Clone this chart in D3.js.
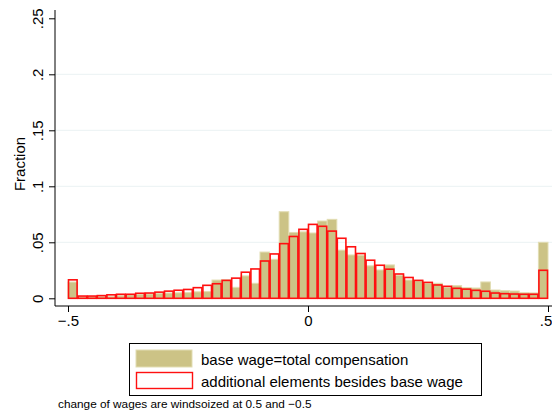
<!DOCTYPE html>
<html><head><meta charset="utf-8">
<script src="https://cdn.jsdelivr.net/npm/d3@7"></script>
<style>body{margin:0;background:#fff}svg{display:block}text{font-family:"Liberation Sans",Arial,sans-serif;fill:#000}</style>
</head><body>
<script>
const binStart = -0.5, binWidth = 0.02;
const baseWage = [0.0145,0.0012,0.0015,0.0018,0.0017,0.0023,0.003,0.0035,0.0038,0.0042,
  0.0047,0.0049,0.0051,0.0058,0.006,0.0163,0.0165,0.0098,0.020,0.0134,
  0.0413,0.0348,0.0773,0.0588,0.0593,0.0583,0.069,0.0705,0.043,0.0387,
  0.0385,0.029,0.0253,0.0298,0.0205,0.0163,0.0155,0.0134,0.0134,0.0098,
  0.0113,0.0095,0.0092,0.0146,0.0074,0.0068,0.0065,0.005,0.0048,0.050];
const additional = [0.0165,0.002,0.002,0.0024,0.0031,0.0036,0.0036,0.0045,0.0047,0.0055,
  0.0064,0.0072,0.0079,0.0095,0.0116,0.013,0.016,0.018,0.0233,0.0262,
  0.0333,0.0396,0.0488,0.0552,0.0616,0.066,0.0643,0.060,0.0536,0.046,
  0.040,0.034,0.0295,0.026,0.0217,0.0186,0.016,0.0142,0.0119,0.0107,
  0.0089,0.0082,0.0071,0.0063,0.0047,0.0041,0.0038,0.0036,0.0036,0.025];
const yTicks = [0,0.05,0.1,0.15,0.2,0.25];
const yTickLabels = ["0",".05",".1",".15",".2",".25"];
const xTicks = [-0.5,0,0.5];
const xTickLabels = ["\u2212.5","0",".5"];
const legendLabels = ["base wage=total compensation","additional elements besides base wage"];
const yTitle = "Fraction";
const note = "change of wages are windsoized at 0.5 and \u22120.5";

const W=552,H=411;
const svg=d3.select("body").append("svg").attr("width",W).attr("height",H);
const x=d3.scaleLinear().domain([-0.5,0.5]).range([68,548]);
const y=d3.scaleLinear().domain([0,0.25]).range([298.3,18.3]);
const axX=55, axY=306;

// gridlines
svg.append("g").selectAll("line").data(yTicks.filter(d=>d>0&&d<0.25)).join("line")
  .attr("x1",axX).attr("x2",W).attr("y1",d=>y(d)).attr("y2",d=>y(d))
  .attr("stroke","#eaf2f3").attr("stroke-width",1);

const bins=d=>d.map((v,i)=>({x0:binStart+i*binWidth,x1:binStart+(i+1)*binWidth,v}));
svg.append("g").selectAll("rect").data(bins(baseWage)).join("rect")
  .attr("x",d=>x(d.x0)).attr("width",d=>x(d.x1)-x(d.x0))
  .attr("y",d=>y(d.v)).attr("height",d=>y(0)-y(d.v))
  .attr("fill","#ccc386").attr("stroke","#e2ddb3").attr("stroke-width",1);
svg.append("g").selectAll("rect").data(bins(additional)).join("rect")
  .attr("x",d=>x(d.x0)+0.5).attr("width",d=>x(d.x1)-x(d.x0)-1)
  .attr("y",d=>y(d.v)).attr("height",d=>y(0)-y(d.v))
  .attr("fill","none").attr("stroke","#ff1010").attr("stroke-width",1.6);

// y axis
const ya=d3.axisLeft(y).tickValues(yTicks).tickFormat((d,i)=>yTickLabels[i]).tickSize(6).tickPadding(4);
const gy=svg.append("g").attr("transform",`translate(${axX},0)`).call(ya);
gy.select(".domain").attr("d",`M0,10V${axY}`).attr("stroke","#000");
gy.selectAll(".tick line").attr("stroke","#000");
gy.selectAll(".tick text").attr("font-size",15).attr("text-anchor","middle")
  .attr("x",null).attr("dy",null).attr("transform","translate(-18,0) rotate(-90)").attr("dominant-baseline","central");

// x axis
const xa=d3.axisBottom(x).tickValues(xTicks).tickFormat((d,i)=>xTickLabels[i]).tickSize(6).tickPadding(3);
const gx=svg.append("g").attr("transform",`translate(0,${axY})`).call(xa);
gx.select(".domain").attr("d",`M${axX},0H${W}`).attr("stroke","#000");
gx.selectAll(".tick line").attr("stroke","#000");
gx.selectAll(".tick text").attr("font-size",15).attr("dx",(d,i)=>i===xTicks.length-1?-2.5:0);

svg.append("text").attr("transform","translate(19,164) rotate(-90)").attr("text-anchor","middle")
  .attr("dominant-baseline","central").attr("font-size",15).text(yTitle);

// legend
const lg=svg.append("g");
lg.append("rect").attr("x",129.5).attr("y",343.5).attr("width",352).attr("height",52).attr("fill","#fff").attr("stroke","#000").attr("stroke-width",1);
lg.append("rect").attr("x",136).attr("y",350).attr("width",56).attr("height",17).attr("fill","#ccc386").attr("stroke","#e2ddb3");
lg.append("rect").attr("x",136.5).attr("y",372.5).attr("width",56).attr("height",16).attr("fill","#fff").attr("stroke","#ff1010").attr("stroke-width",1.4);
lg.selectAll("text.l").data(legendLabels).join("text").attr("class","l")
  .attr("x",201).attr("y",(d,i)=>359.5+i*22).attr("dominant-baseline","central").attr("font-size",15).text(d=>d);

svg.append("text").attr("x",58).attr("y",403.5).attr("dominant-baseline","central").attr("font-size",11.8).text(note);
</script>
</body></html>
